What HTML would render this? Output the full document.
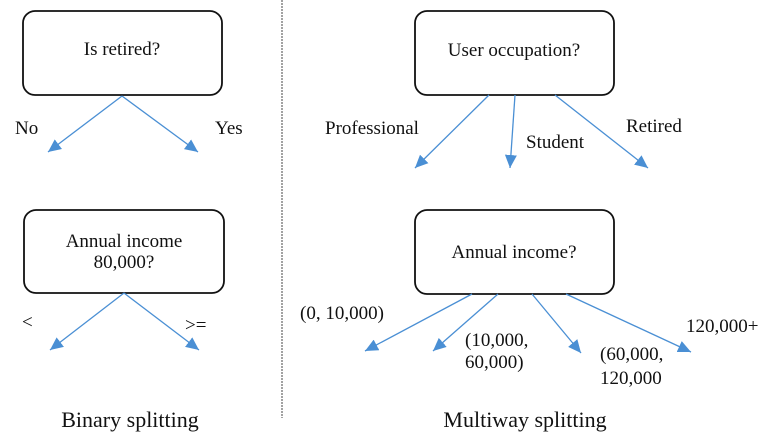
<!DOCTYPE html>
<html><head><meta charset="utf-8"><style>
html,body{margin:0;padding:0;background:#fff;}
svg{display:block;}
text{font-family:"Liberation Serif",serif;fill:#111;}
</style></head><body>
<svg width="760" height="441" viewBox="0 0 760 441" xmlns="http://www.w3.org/2000/svg">
<defs>
<marker id="a" markerWidth="14" markerHeight="14" refX="13" refY="6" orient="auto" markerUnits="userSpaceOnUse">
<path d="M0,0 L13,6 L0,12 z" fill="#4a8fd4"/>
</marker>
</defs>
<g fill="none" stroke="#111" stroke-width="1.8">
<rect x="23" y="11" width="199" height="84" rx="12"/>
<rect x="24" y="210" width="200" height="83" rx="12"/>
<rect x="415" y="11" width="199" height="84" rx="12"/>
<rect x="415" y="210" width="199" height="84" rx="12"/>
</g>
<line x1="282" y1="0" x2="282" y2="418" stroke="#444" stroke-width="1" stroke-dasharray="2,1"/>
<g stroke="#4a8fd4" stroke-width="1.3" marker-end="url(#a)">
<line x1="122" y1="96" x2="48" y2="152"/>
<line x1="122" y1="96" x2="198" y2="152"/>
<line x1="124" y1="293" x2="50" y2="350"/>
<line x1="124" y1="293" x2="199" y2="350"/>
<line x1="489" y1="95" x2="415" y2="168"/>
<line x1="515" y1="95" x2="510" y2="168"/>
<line x1="555" y1="95" x2="648" y2="168"/>
<line x1="472" y1="294" x2="365" y2="351"/>
<line x1="498" y1="294" x2="433" y2="351"/>
<line x1="532" y1="294" x2="581" y2="353"/>
<line x1="566" y1="294" x2="691" y2="352"/>
</g>
<g font-size="19">
<text x="122" y="55" text-anchor="middle">Is retired?</text>
<text x="124" y="247" text-anchor="middle">Annual income</text>
<text x="124" y="268" text-anchor="middle">80,000?</text>
<text x="514" y="56" text-anchor="middle">User occupation?</text>
<text x="514" y="258" text-anchor="middle">Annual income?</text>
<text x="15" y="134">No</text>
<text x="215" y="134">Yes</text>
<text x="22" y="328" font-family="Liberation Sans,sans-serif" font-size="19">&lt;</text>
<text x="185" y="331" font-family="Liberation Sans,sans-serif" font-size="19">&gt;=</text>
<text x="325" y="134">Professional</text>
<text x="526" y="148">Student</text>
<text x="626" y="132">Retired</text>
<text x="300" y="319">(0, 10,000)</text>
<text x="465" y="346">(10,000,</text>
<text x="465" y="368">60,000)</text>
<text x="600" y="360">(60,000,</text>
<text x="600" y="384">120,000</text>
<text x="686" y="332">120,000+</text>
</g>
<g font-size="22">
<text x="130" y="427" text-anchor="middle">Binary splitting</text>
<text x="525" y="427" text-anchor="middle">Multiway splitting</text>
</g>
</svg>
</body></html>
